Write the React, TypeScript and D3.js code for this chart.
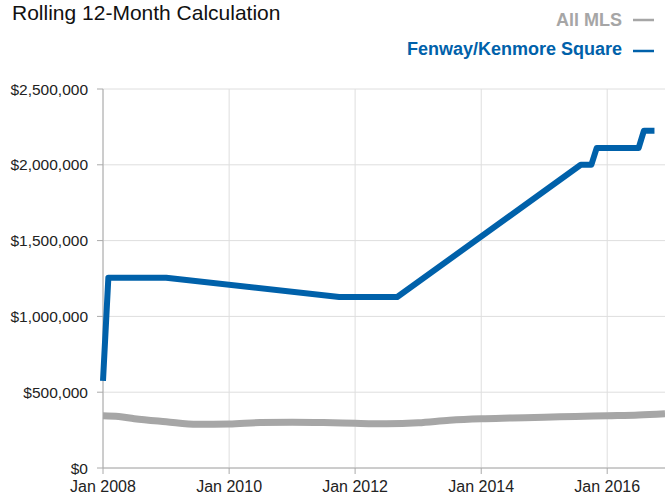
import React, { useEffect, useRef } from 'react';
import * as d3 from 'd3';

// Fenway/Kenmore Square rolling 12-month median
const fenwayDates = ['2008-01', '2008-02', '2009-01', '2011-10', '2012-09', '2015-08', '2015-10', '2015-11', '2016-07', '2016-08', '2016-10'];
const fenwayValues = [575000, 1255000, 1255000, 1128000, 1128000, 2000000, 2000000, 2110000, 2110000, 2225000, 2225000];

// All MLS
const mlsDates = ['2008-01', '2008-04', '2008-07', '2009-01', '2009-07', '2010-01', '2010-07', '2011-01', '2011-07', '2012-01', '2012-07', '2013-01', '2013-07', '2014-01', '2014-07', '2015-01', '2015-07', '2016-01', '2016-07', '2016-12'];
const mlsValues = [345000, 340000, 325000, 305000, 288000, 290000, 300000, 302000, 300000, 295000, 292000, 298000, 315000, 325000, 330000, 335000, 340000, 345000, 350000, 358000];

const xTickLabels = ['Jan 2008', 'Jan 2010', 'Jan 2012', 'Jan 2014', 'Jan 2016'];
const yTicks = [0, 500000, 1000000, 1500000, 2000000, 2500000];

const W = 665;
const H = 496;

function App() {
  const svgRef = useRef<SVGSVGElement>(null);

  useEffect(() => {
    const svg = d3.select(svgRef.current);
    svg.selectAll('*').remove();

    const parse = d3.timeParse('%Y-%m');
    const left = 103, right = 665, top = 89, bottom = 468;

    const x = d3.scaleTime()
      .domain([parse('2008-01')!, parse('2016-12')!])
      .range([left, right]);
    const y = d3.scaleLinear().domain([0, 2500000]).range([bottom, top]);

    const font = '"Liberation Sans", Arial, sans-serif';

    // grid
    const tickDates = xTickLabels.map((t) => d3.timeParse('%b %Y')(t)!);
    svg.append('g').selectAll('line')
      .data(tickDates)
      .enter().append('line')
      .attr('x1', (d) => x(d)).attr('x2', (d) => x(d))
      .attr('y1', top).attr('y2', bottom)
      .attr('stroke', '#dedede').attr('stroke-width', 1);
    svg.append('g').selectAll('line')
      .data(yTicks)
      .enter().append('line')
      .attr('x1', left).attr('x2', right)
      .attr('y1', (d) => y(d)).attr('y2', (d) => y(d))
      .attr('stroke', '#dedede').attr('stroke-width', 1);

    // axes lines
    svg.append('line').attr('x1', left).attr('x2', left).attr('y1', top).attr('y2', bottom)
      .attr('stroke', '#aaaaaa').attr('stroke-width', 1);
    svg.append('line').attr('x1', left).attr('x2', right).attr('y1', bottom).attr('y2', bottom)
      .attr('stroke', '#aaaaaa').attr('stroke-width', 1);

    // y ticks + labels
    const fmt = d3.format('$,.0f');
    const yg = svg.append('g').selectAll('g').data(yTicks).enter().append('g');
    yg.append('line')
      .attr('x1', left - 6).attr('x2', left)
      .attr('y1', (d) => y(d)).attr('y2', (d) => y(d))
      .attr('stroke', '#aaaaaa');
    yg.append('text')
      .attr('x', left - 15).attr('y', (d) => y(d) + 5.5)
      .attr('text-anchor', 'end')
      .attr('font-family', font).attr('font-size', 15.5).attr('fill', '#222')
      .text((d) => fmt(d));

    // x ticks + labels
    const xg = svg.append('g').selectAll('g').data(tickDates).enter().append('g');
    xg.append('line')
      .attr('x1', (d) => x(d)).attr('x2', (d) => x(d))
      .attr('y1', bottom).attr('y2', bottom + 6)
      .attr('stroke', '#aaaaaa');
    xg.append('text')
      .attr('x', (d) => x(d)).attr('y', 492)
      .attr('text-anchor', 'middle')
      .attr('font-family', font).attr('font-size', 16).attr('fill', '#222')
      .text((d, i) => xTickLabels[i]);

    // lines
    const mls = mlsDates.map((d, i) => ({ date: parse(d)!, value: mlsValues[i] }));
    const fen = fenwayDates.map((d, i) => ({ date: parse(d)!, value: fenwayValues[i] }));

    svg.append('path')
      .datum(mls)
      .attr('d', d3.line<any>().x((d) => x(d.date)).y((d) => y(d.value)).curve(d3.curveMonotoneX))
      .attr('fill', 'none').attr('stroke', '#a6a6a6').attr('stroke-width', 7);

    svg.append('path')
      .datum(fen)
      .attr('d', d3.line<any>().x((d) => x(d.date)).y((d) => y(d.value)))
      .attr('fill', 'none').attr('stroke', '#0061aa').attr('stroke-width', 6)
      .attr('stroke-linejoin', 'round');

    // title
    svg.append('text')
      .attr('x', 12).attr('y', 20)
      .attr('font-family', font)
      .attr('font-size', 21).attr('fill', '#111')
      .text('Rolling 12-Month Calculation');

    // legend
    const legend = [
      { label: 'All MLS', color: '#a6a6a6', y: 26, dy: 6 },
      { label: 'Fenway/Kenmore Square', color: '#0061aa', y: 55, dy: 4 },
    ];
    const lg = svg.append('g').selectAll('g').data(legend).enter().append('g');
    lg.append('text')
      .attr('x', 622).attr('y', (d) => d.y)
      .attr('text-anchor', 'end')
      .attr('font-family', font)
      .attr('font-weight', 'bold').attr('font-size', 18)
      .attr('fill', (d) => d.color)
      .text((d) => d.label);
    lg.append('line')
      .attr('x1', 633).attr('x2', 654)
      .attr('y1', (d) => d.y - d.dy).attr('y2', (d) => d.y - d.dy)
      .attr('stroke', (d) => d.color).attr('stroke-width', 2.5);
  }, []);

  return (
    <svg ref={svgRef} width={W} height={H}
      style={{ position: 'absolute', left: 0, top: 0, background: '#fff' }} />
  );
}

export default App;
